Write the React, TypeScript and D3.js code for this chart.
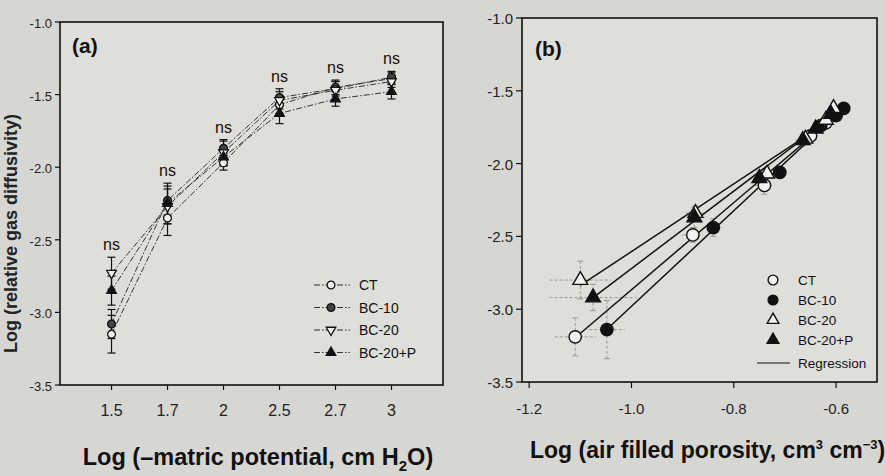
import React from "react";
import * as d3 from "d3";

// panel (a): matric potential levels
const suctionLevels = ["1.5", "1.7", "2", "2.5", "2.7", "3"];
const seriesNames = ["CT", "BC-10", "BC-20", "BC-20+P"];

const ctA = [-3.15, -2.35, -1.97, -1.57, -1.45, -1.39];
const bc10A = [-3.08, -2.23, -1.87, -1.52, -1.46, -1.38];
const bc20A = [-2.73, -2.27, -1.9, -1.54, -1.47, -1.41];
const bc20pA = [-2.85, -2.25, -1.93, -1.63, -1.53, -1.48];
const ctAErr = [0.13, 0.12, 0.05, 0.06, 0.05, 0.04];
const bc10AErr = [0.1, 0.1, 0.05, 0.06, 0.05, 0.04];
const bc20AErr = [0.11, 0.12, 0.09, 0.06, 0.06, 0.04];
const bc20pAErr = [0.1, 0.14, 0.06, 0.07, 0.05, 0.05];
const nsLabels = ["ns", "ns", "ns", "ns", "ns", "ns"];
const yTicksA = [-1.0, -1.5, -2.0, -2.5, -3.0, -3.5];

// panel (b): air filled porosity vs gas diffusivity
const ctBx = [-1.11, -0.88, -0.74, -0.65, -0.62, -0.6];
const ctBy = [-3.19, -2.49, -2.15, -1.81, -1.72, -1.65];
const bc10Bx = [-1.048, -0.84, -0.71, -0.63, -0.6, -0.585];
const bc10By = [-3.14, -2.44, -2.06, -1.74, -1.67, -1.62];
const bc20Bx = [-1.1, -0.875, -0.735, -0.66, -0.62, -0.605];
const bc20By = [-2.8, -2.34, -2.07, -1.83, -1.7, -1.62];
const bc20pBx = [-1.075, -0.877, -0.75, -0.665, -0.64, -0.61];
const bc20pBy = [-2.92, -2.37, -2.1, -1.84, -1.76, -1.66];
const ctBxErr = [0.04, 0.02, 0.02, 0.015, 0.01, 0.01];
const ctByErr = [0.13, 0.05, 0.06, 0.04, 0.03, 0.03];
const bc10BxErr = [0.035, 0.02, 0.015, 0.01, 0.01, 0.01];
const bc10ByErr = [0.2, 0.06, 0.04, 0.03, 0.03, 0.02];
const bc20BxErr = [0.06, 0.02, 0.02, 0.015, 0.01, 0.01];
const bc20ByErr = [0.13, 0.05, 0.05, 0.04, 0.03, 0.03];
const bc20pBxErr = [0.085, 0.025, 0.02, 0.015, 0.01, 0.01];
const bc20pByErr = [0.09, 0.07, 0.05, 0.04, 0.03, 0.03];
const xTicksB = [-1.2, -1.0, -0.8, -0.6];
const yTicksB = [-1.0, -1.5, -2.0, -2.5, -3.0, -3.5];

const W = 885;
const H = 476;
const FONT = "Arial, 'Liberation Sans', sans-serif";

const shapesA = ["circleOpen", "circleFilled", "triDownOpen", "triUpFilled"];
const shapesB = ["circleOpen", "circleFilled", "triUpOpen", "triUpFilled"];

function Marker({ x, y, shape, size, filledColor = "#111", sw = 1.4 }: { x: number; y: number; shape: string; size: number; filledColor?: string; sw?: number }) {
  const isCircle = shape.startsWith("circle");
  const path = d3.symbol().type(isCircle ? d3.symbolCircle : d3.symbolTriangle).size(size)() ?? "";
  const filled = shape.endsWith("Filled");
  const rot = shape === "triDownOpen" ? 180 : 0;
  return (
    <path
      d={path}
      transform={`translate(${x},${y}) rotate(${rot})`}
      fill={filled ? filledColor : "#f2f2f0"}
      stroke="#111"
      strokeWidth={sw}
    />
  );
}

function fitLine(xs: number[], ys: number[]) {
  const mx = d3.mean(xs) ?? 0;
  const my = d3.mean(ys) ?? 0;
  let num = 0;
  let den = 0;
  xs.forEach((x, i) => {
    num += (x - mx) * (ys[i] - my);
    den += (x - mx) * (x - mx);
  });
  const slope = num / den;
  return (x: number) => my + slope * (x - mx);
}

export default function App() {
  // ---- panel (a)
  const aL = 60, aR = 443, aT = 22, aB = 385;
  const xA = d3.scalePoint<string>().domain(suctionLevels).range([aL, aR]).padding(0.92);
  const yA = d3.scaleLinear().domain([-3.5, -1.0]).range([aB, aT]);
  const seriesA = [ctA, bc10A, bc20A, bc20pA];
  const errA = [ctAErr, bc10AErr, bc20AErr, bc20pAErr];
  const lineA = d3
    .line<number>()
    .x((_, i) => xA(suctionLevels[i]) ?? 0)
    .y((d) => yA(d));

  // ---- panel (b)
  const bL = 522, bR = 877, bT = 18, bB = 382;
  const xB = d3.scaleLinear().domain([-1.214, -0.52]).range([bL, bR]);
  const yB = d3.scaleLinear().domain([-3.5, -1.0]).range([bB, bT]);
  const seriesBx = [ctBx, bc10Bx, bc20Bx, bc20pBx];
  const seriesBy = [ctBy, bc10By, bc20By, bc20pBy];
  const errBx = [ctBxErr, bc10BxErr, bc20BxErr, bc20pBxErr];
  const errBy = [ctByErr, bc10ByErr, bc20ByErr, bc20pByErr];

  return (
    <svg
      width={W}
      height={H}
      style={{ position: "absolute", left: 0, top: 0, background: "#d6d6d3" }}
      fontFamily={FONT}
    >
      {/* ================= panel (a) ================= */}
      <rect x={aL} y={aT} width={aR - aL} height={aB - aT} fill="#dededb" stroke="#111" strokeWidth={1.6} />
      {yTicksA.map((t) => (
        <g key={t}>
          <line x1={aL - 5} x2={aL} y1={yA(t)} y2={yA(t)} stroke="#111" strokeWidth={1.2} />
          <text x={aL - 8} y={yA(t) + 6} fontSize={13} textAnchor="end" fill="#222">
            {t.toFixed(1)}
          </text>
        </g>
      ))}
      {suctionLevels.map((c) => (
        <g key={c}>
          <line x1={xA(c)} x2={xA(c)} y1={aB} y2={aB + 5} stroke="#111" strokeWidth={1.2} />
          <text x={xA(c)} y={aB + 31} fontSize={16} textAnchor="middle" fill="#222">
            {c}
          </text>
        </g>
      ))}
      <text x={72} y={53} fontSize={21} fontWeight="bold" fill="#111">(a)</text>
      <text
        transform={`translate(17,${(aT + aB) / 2 + 30}) rotate(-90)`}
        fontSize={18}
        fontWeight="bold"
        textAnchor="middle"
        fill="#222"
      >
        Log (relative gas diffusivity)
      </text>
      <text x={258} y={465} fontSize={23.5} fontWeight="bold" textAnchor="middle" fill="#111">
        Log (–matric potential, cm H
        <tspan fontSize={15} dy={6}>2</tspan>
        <tspan dy={-6}>O)</tspan>
      </text>

      {seriesA.map((s, k) => (
        <path key={k} d={lineA(s) ?? ""} fill="none" stroke="#333" strokeWidth={1} strokeDasharray="6,2,1.5,2" />
      ))}
      {seriesA.map((s, k) =>
        s.map((v, i) => {
          const cx = xA(suctionLevels[i]) ?? 0;
          const e = errA[k][i];
          return (
            <g key={`${k}-${i}`} stroke="#111" strokeWidth={1.2}>
              <line x1={cx} x2={cx} y1={yA(v - e)} y2={yA(v + e)} />
              <line x1={cx - 4} x2={cx + 4} y1={yA(v - e)} y2={yA(v - e)} />
              <line x1={cx - 4} x2={cx + 4} y1={yA(v + e)} y2={yA(v + e)} />
            </g>
          );
        })
      )}
      {seriesA.map((s, k) =>
        s.map((v, i) => (
          <Marker key={`m${k}-${i}`} x={xA(suctionLevels[i]) ?? 0} y={yA(v)} shape={shapesA[k]} size={k < 2 ? 48 : 40} filledColor={k === 1 ? "#444" : "#111"} sw={1.3} />
        ))
      )}
      {suctionLevels.map((c, i) => {
        const top = d3.max(seriesA.map((s, k) => s[i] + errA[k][i])) ?? 0;
        return (
          <text key={`ns${c}`} x={xA(c)} y={yA(top) - 7} fontSize={16} textAnchor="middle" fill="#111">
            {nsLabels[i]}
          </text>
        );
      })}
      {/* legend (a) */}
      {seriesNames.map((n, k) => {
        const ly = 285 + k * 22.5;
        return (
          <g key={n}>
            <line x1={314} x2={350} y1={ly} y2={ly} stroke="#333" strokeWidth={1} strokeDasharray="6,2,1.5,2" />
            <Marker x={331} y={ly} shape={shapesA[k]} size={k < 2 ? 48 : 40} filledColor={k === 1 ? "#444" : "#111"} sw={1.3} />
            <text x={359} y={ly + 5} fontSize={14} fill="#111">{n}</text>
          </g>
        );
      })}

      {/* ================= panel (b) ================= */}
      <rect x={bL} y={bT} width={bR - bL} height={bB - bT} fill="#dededb" stroke="#111" strokeWidth={1.6} />
      {yTicksB.map((t) => (
        <g key={t}>
          <line x1={bL - 6} x2={bL} y1={yB(t)} y2={yB(t)} stroke="#111" strokeWidth={1.2} />
          <text x={bL - 9} y={yB(t) + 6} fontSize={15} textAnchor="end" fill="#222">
            {t.toFixed(1)}
          </text>
        </g>
      ))}
      {xTicksB.map((t) => (
        <g key={t}>
          <line x1={xB(t)} x2={xB(t)} y1={bB} y2={bB + 6} stroke="#111" strokeWidth={1.2} />
          <text x={xB(t)} y={bB + 32} fontSize={15} textAnchor="middle" fill="#222">
            {t.toFixed(1)}
          </text>
        </g>
      ))}
      <text x={535} y={56} fontSize={21} fontWeight="bold" fill="#111">(b)</text>
      <text x={530} y={458} fontSize={23} fontWeight="bold" fill="#111">
        Log (air filled porosity, cm
        <tspan fontSize={13} dy={-9}>3</tspan>
        <tspan dy={9}> cm</tspan>
        <tspan fontSize={13} dy={-9}>−3</tspan>
        <tspan dy={9}>)</tspan>
      </text>

      {/* error bars */}
      {seriesBx.map((xs, k) =>
        xs.map((xv, i) => {
          const yv = seriesBy[k][i];
          const ex = errBx[k][i];
          const ey = errBy[k][i];
          const px = xB(xv);
          const py = yB(yv);
          return (
            <g key={`eb${k}-${i}`} stroke="#9a9a98" strokeWidth={1} strokeDasharray="3,2">
              <line x1={px} x2={px} y1={yB(yv - ey)} y2={yB(yv + ey)} />
              <line x1={xB(xv - ex)} x2={xB(xv + ex)} y1={py} y2={py} />
              <line x1={px - 3} x2={px + 3} y1={yB(yv + ey)} y2={yB(yv + ey)} strokeDasharray="none" />
              <line x1={px - 3} x2={px + 3} y1={yB(yv - ey)} y2={yB(yv - ey)} strokeDasharray="none" />
            </g>
          );
        })
      )}
      {/* regression lines */}
      {seriesBx.map((xs, k) => {
        const f = fitLine(xs, seriesBy[k]);
        const x0 = d3.min(xs) ?? 0;
        const x1 = d3.max(xs) ?? 0;
        return (
          <line key={`reg${k}`} x1={xB(x0)} y1={yB(f(x0))} x2={xB(x1)} y2={yB(f(x1))} stroke="#111" strokeWidth={1.5} />
        );
      })}
      {seriesBx.map((xs, k) =>
        xs.map((xv, i) => (
          <Marker key={`mb${k}-${i}`} x={xB(xv)} y={yB(seriesBy[k][i])} shape={shapesB[k]} size={k < 2 ? 120 : 95} />
        ))
      )}
      {/* legend (b) */}
      {seriesNames.map((n, k) => {
        const ly = 280 + k * 20;
        return (
          <g key={`lb${n}`}>
            <Marker x={773} y={ly} shape={shapesB[k]} size={k < 2 ? 75 : 60} />
            <text x={798} y={ly + 5} fontSize={13.5} fill="#111">{n}</text>
          </g>
        );
      })}
      <line x1={757} x2={790} y1={363} y2={363} stroke="#111" strokeWidth={1.2} />
      <text x={798} y={368} fontSize={13.5} fill="#111">Regression</text>
    </svg>
  );
}
